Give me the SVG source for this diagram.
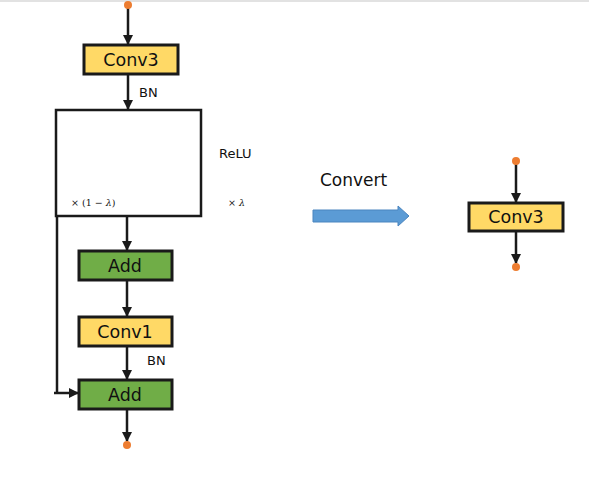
<svg xmlns="http://www.w3.org/2000/svg" width="589" height="492" viewBox="0 0 589 492">
<style>
.box{stroke:#1a1a1a;stroke-width:3}
.y{fill:#FFD966}
.g{fill:#70AD47}
.ln{stroke:#1a1a1a;stroke-width:2.5;fill:none}
.lbl{font-family:"DejaVu Sans",sans-serif;fill:#111}
.bt{font-family:"DejaVu Sans",sans-serif;font-size:17.5px;fill:#111;text-anchor:middle}
.m{font-family:"DejaVu Serif",serif;font-size:9.5px;fill:#111}
.dot{fill:#ED7D31}
</style>
<defs>
<marker id="ah" viewBox="0 0 10 10" refX="9" refY="5" markerWidth="4" markerHeight="4" orient="auto" markerUnits="strokeWidth">
<path d="M0,0 L10,5 L0,10 z" fill="#1a1a1a"/>
</marker>
</defs>
<rect x="0" y="0" width="589" height="492" fill="#fff"/>
<rect x="0" y="0" width="589" height="2" fill="#e2e2e2"/>
<g id="connectors">
<line class="ln" x1="128" y1="6" x2="128" y2="44" marker-end="url(#ah)"/>
<line class="ln" x1="128" y1="75" x2="128" y2="109" marker-end="url(#ah)"/>
<line class="ln" x1="127" y1="217" x2="127" y2="250" marker-end="url(#ah)"/>
<line class="ln" x1="127" y1="281" x2="127" y2="316" marker-end="url(#ah)"/>
<line class="ln" x1="127" y1="347" x2="127" y2="379" marker-end="url(#ah)"/>
<polyline class="ln" points="57,216 57,393"/>
<line class="ln" x1="54" y1="393" x2="78" y2="393" marker-end="url(#ah)"/>
<line class="ln" x1="127" y1="410" x2="127" y2="441" marker-end="url(#ah)"/>
<line class="ln" x1="516" y1="162" x2="516" y2="202" marker-end="url(#ah)"/>
<line class="ln" x1="516" y1="232" x2="516" y2="263" marker-end="url(#ah)"/>
</g>
<g id="dots">
<circle class="dot" cx="128" cy="5" r="4"/>
<circle class="dot" cx="127" cy="445" r="4"/>
<circle class="dot" cx="516" cy="161" r="4"/>
<circle class="dot" cx="516" cy="267" r="4"/>
</g>
<g id="conv3">
<rect class="box y" x="84" y="45" width="94" height="29"/>
<text class="bt" x="131" y="66">Conv3</text>
</g>
<text class="lbl" x="139" y="97" font-size="13">BN</text>
<g id="relu">
<rect x="56" y="110" width="145" height="106" fill="#fff" stroke="#1a1a1a" stroke-width="2.5"/>
<text class="m" x="71" y="206">× (1 − <tspan font-style="italic">λ</tspan>)</text>
</g>
<text class="lbl" x="219" y="158" font-size="13">ReLU</text>
<text class="m" x="228" y="206">× <tspan font-style="italic">λ</tspan></text>
<g id="add1">
<rect class="box g" x="79" y="251" width="93" height="29"/>
<text class="bt" x="125" y="272">Add</text>
</g>
<g id="conv1">
<rect class="box y" x="79" y="317" width="93" height="29"/>
<text class="bt" x="125" y="338">Conv1</text>
</g>
<text class="lbl" x="147" y="365" font-size="13">BN</text>
<g id="add2">
<rect class="box g" x="79" y="380" width="93" height="29"/>
<text class="bt" x="125" y="401">Add</text>
</g>
<g id="convert">
<text class="lbl" x="320" y="186" font-size="17">Convert</text>
<path d="M313,210 L398,210 L398,206 L409,216 L398,226 L398,222 L313,222 Z" fill="#5B9BD5" stroke="#4A85BF" stroke-width="1"/>
</g>
<g id="conv3r">
<rect class="box y" x="469" y="203" width="94" height="28"/>
<text class="bt" x="516" y="223">Conv3</text>
</g>
</svg>
